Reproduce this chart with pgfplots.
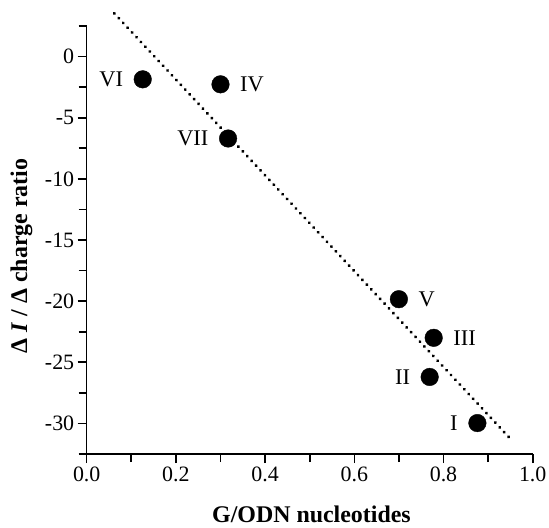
\documentclass[border=0pt]{standalone}
\usepackage{fontspec}
\setmainfont{Liberation Serif}
\usepackage{pgfplots}
\pgfplotsset{compat=1.18}
\begin{document}
\begin{tikzpicture}
\begin{axis}[
  scale only axis, width=446bp, height=428bp,
  xmin=0, xmax=1, ymin=-32.5, ymax=2.5,
  axis x line*=bottom, axis y line*=left,
  axis line style={line width=1.6bp, -},
  clip=false,
  xtick={0,0.2,0.4,0.6,0.8,1}, xticklabels={0.0,0.2,0.4,0.6,0.8,1.0},
  minor xtick={0.1,0.3,0.5,0.7,0.9},
  ytick={-30,-25,-20,-15,-10,-5,0}, yticklabels={-30,-25,-20,-15,-10,-5,0},
  minor ytick={-32.5,-27.5,-22.5,-17.5,-12.5,-7.5,-2.5,2.5},
  tick align=outside, major tick length=9bp, minor tick length=8bp,
  every tick/.style={line width=1.6bp, black},
  ticklabel style={font=\fontsize{22}{26}\selectfont},
  xlabel={\textbf{G/ODN nucleotides}},
  ylabel={\textbf{Δ \textit{I} / Δ charge ratio}},
  every axis x label/.style={at={(axis description cs:0.504,-0.159)}, anchor=base, inner sep=0pt, font=\fontsize{24}{28}\selectfont},
  every axis y label/.style={at={(axis description cs:-0.146,0.463)}, anchor=center, rotate=90, inner sep=0pt, font=\fontsize{24}{28}\selectfont},
]
\addplot[black, line width=3.3bp, line cap=round, dash pattern=on 0.1bp off 6.4bp] coordinates {(0.062,3.53) (0.946,-31.1)};
\addplot[only marks, mark=*, mark size=8.8bp, black,
  point meta=explicit symbolic, nodes near coords,
  every node near coord/.append style={anchor=east, inner sep=0pt, xshift=-19.5bp, font=\fontsize{22.5}{27}\selectfont}]
  coordinates {(0.1256,-1.86) [VI] (0.317,-6.7) [VII] (0.769,-26.2) [II] (0.876,-29.97) [I]};
\addplot[only marks, mark=*, mark size=8.8bp, black,
  point meta=explicit symbolic, nodes near coords,
  every node near coord/.append style={anchor=west, inner sep=0pt, xshift=19.5bp, font=\fontsize{22.5}{27}\selectfont}]
  coordinates {(0.300,-2.27) [IV] (0.700,-19.84) [V] (0.778,-23.0) [III]};
\end{axis}
\pgfresetboundingbox
\useasboundingbox ([xshift=-86.7bp, yshift=-74bp]current axis.south west) rectangle ([xshift=16.3bp, yshift=26bp]current axis.north east);
\end{tikzpicture}
\end{document}
